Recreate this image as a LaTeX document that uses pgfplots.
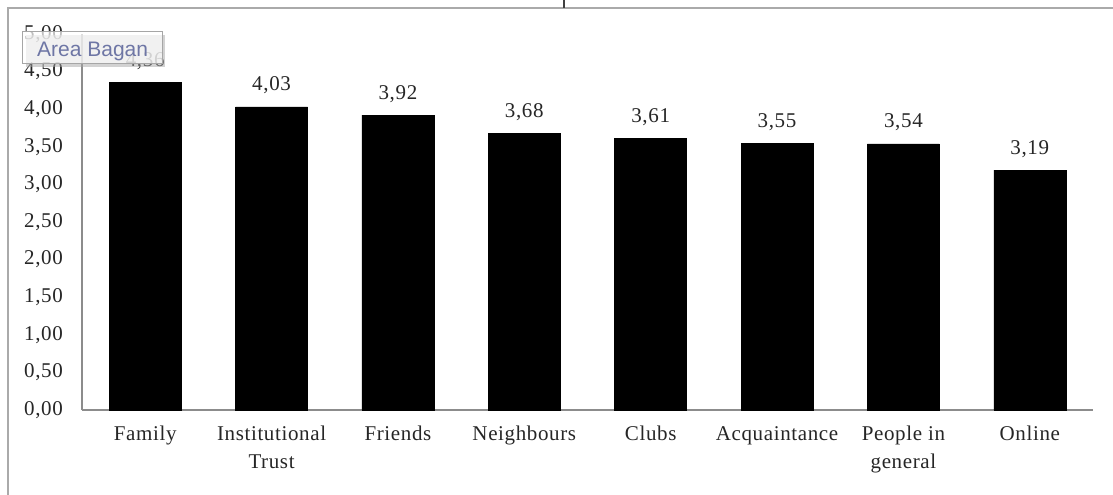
\documentclass[border=0pt]{standalone}
\usepackage{fontspec}
\setmainfont{Liberation Serif}[LetterSpace=3]
\newfontfamily\tipfont{Liberation Sans}
\usepackage{pgfplots}
\pgfplotsset{compat=1.18}
\definecolor{axisgray}{RGB}{140,140,140}
\definecolor{framegray}{RGB}{170,170,170}
\definecolor{tipblue}{RGB}{110,118,165}
\pgfkeys{/pgf/number format/.cd, fixed, fixed zerofill, precision=2, use comma, assume math mode=true}
\begin{document}
\begin{tikzpicture}
\path[use as bounding box] (-82bp,-85bp) rectangle (1031bp,410bp);
\draw[framegray, line width=1.5bp] (-74bp,-86bp) -- (-74bp,402bp) -- (1032bp,402bp);
\draw[black!75, line width=2bp] (482bp,402bp) -- (482bp,411bp);
\begin{axis}[
  at={(0,0)}, anchor=south west,
  scale only axis, width=1011bp, height=376bp,
  xmin=-0.5, xmax=7.5, ymin=0, ymax=5,
  ytick={0,0.5,1,1.5,2,2.5,3,3.5,4,4.5,5},
  xtick={0,1,2,3,4,5,6,7},
  xticklabels={Family, Institutional\\Trust, Friends, Neighbours, Clubs, Acquaintance, People in\\general, Online},
  axis x line=bottom, axis y line=left,
  axis line style={draw=axisgray, line width=1.2bp, -},
  major tick length=0pt,
  font=\fontsize{21bp}{28bp}\selectfont,
  yticklabel style={anchor=east, inner sep=0pt, xshift=-19bp, text=black!85},
  xticklabel style={anchor=north, inner sep=0pt, yshift=-16bp, align=center, text=black!85},
  clip=false,
  ybar, bar width=72bp,
  nodes near coords,
  every node near coord/.append style={anchor=base, inner sep=0pt, yshift=16bp, text=black!85},
]
\addplot[fill=black, draw=black] coordinates {
  (0,4.36) (1,4.03) (2,3.92) (3,3.68) (4,3.61) (5,3.55) (6,3.54) (7,3.19)
};
\end{axis}
% tooltip overlay
\fill[black!35, opacity=0.5] (-56bp,343bp) rectangle (83bp,375bp);
\filldraw[draw=black!35, fill=white, fill opacity=0.7, line width=1bp] (-59bp,346bp) rectangle (80bp,378bp);
\node[anchor=base west, inner sep=0pt, text=tipblue, font=\tipfont\fontsize{21bp}{24bp}\selectfont] at (-45bp,353bp) {Area Bagan};
\end{tikzpicture}
\end{document}
